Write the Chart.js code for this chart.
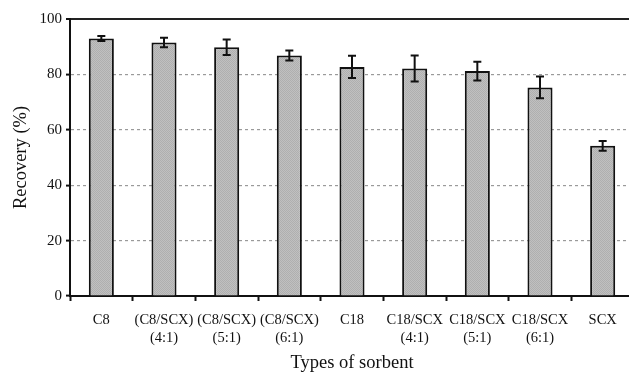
<!DOCTYPE html>
<html>
<head>
<meta charset="utf-8">
<script src="https://cdn.jsdelivr.net/npm/chart.js@4/dist/chart.umd.min.js"></script>
<style>
  html, body { margin: 0; padding: 0; background: #fff; overflow: hidden; }
  #wrap { width: 629px; height: 372px; overflow: hidden; position: relative; }
  #box { width: 640px; height: 372px; position: absolute; left: 0; top: 0; }
</style>
</head>
<body>
<div id="wrap"><div id="box"><canvas id="c"></canvas></div></div>
<script>
// Sorbent types (multi-line tick labels)
const sorbents = [
  ['C8'],
  ['(C8/SCX)', '(4:1)'],
  ['(C8/SCX)', '(5:1)'],
  ['(C8/SCX)', '(6:1)'],
  ['C18'],
  ['C18/SCX', '(4:1)'],
  ['C18/SCX', '(5:1)'],
  ['C18/SCX', '(6:1)'],
  ['SCX']
];
// Mean recovery (%) and standard deviation
const recovery = [93.0, 91.5, 89.8, 86.8, 82.7, 82.1, 81.2, 75.3, 54.2];
const deviation = [0.9, 1.7, 2.8, 1.8, 4.0, 4.7, 3.4, 3.9, 1.8];
const yTicks = [0, 20, 40, 60, 80, 100];

const serif = "'Liberation Serif', 'DejaVu Serif', serif";

// Fine stippled gray fill for the bars
function stipple() {
  const p = document.createElement('canvas');
  p.width = 2; p.height = 2;
  const g = p.getContext('2d');
  g.fillStyle = '#c0c0c0'; g.fillRect(0, 0, 2, 2);
  g.fillStyle = '#afafaf'; g.fillRect(0, 0, 1, 1); g.fillRect(1, 1, 1, 1);
  return g.createPattern(p, 'repeat');
}

// Error bars drawn from the deviation array through the scales
const errorBars = {
  id: 'errorBars',
  afterDatasetsDraw(chart) {
    const ctx = chart.ctx;
    const meta = chart.getDatasetMeta(0);
    const y = chart.scales.y;
    ctx.save();
    ctx.strokeStyle = '#111';
    ctx.lineWidth = 2;
    meta.data.forEach((bar, i) => {
      const x = bar.x;
      const hi = y.getPixelForValue(recovery[i] + deviation[i]);
      const lo = y.getPixelForValue(recovery[i] - deviation[i]);
      const cap = 4;
      ctx.beginPath();
      ctx.moveTo(x, hi); ctx.lineTo(x, lo);
      ctx.moveTo(x - cap, hi); ctx.lineTo(x + cap, hi);
      ctx.moveTo(x - cap, lo); ctx.lineTo(x + cap, lo);
      ctx.stroke();
    });
    ctx.restore();
  }
};

new Chart(document.getElementById('c'), {
  type: 'bar',
  data: {
    labels: sorbents,
    datasets: [{
      data: recovery,
      backgroundColor: stipple(),
      borderColor: '#111',
      borderWidth: 2,
      borderSkipped: 'bottom',
      categoryPercentage: 1.0,
      barPercentage: 0.4
    }]
  },
  options: {
    responsive: true,
    maintainAspectRatio: false,
    animation: false,
    layout: { padding: { left: 0, right: 6, top: 19, bottom: 0 } },
    plugins: { legend: { display: false }, tooltip: { enabled: false } },
    scales: {
      x: {
        afterFit(s) { s.height = 76; },
        grid: {
          offset: true,
          drawOnChartArea: false,
          drawTicks: true,
          tickLength: 5,
          tickColor: '#111',
          tickWidth: 2
        },
        border: { color: '#111', width: 2 },
        ticks: {
          color: '#111',
          font: { family: serif, size: 14.5, lineHeight: 1.25 },
          padding: 10,
          maxRotation: 0,
          autoSkip: false
        },
        title: {
          display: true,
          text: 'Types of sorbent',
          color: '#111',
          font: { family: serif, size: 18.5 },
          padding: { top: 0, bottom: -2 }
        }
      },
      y: {
        min: 0,
        max: 100,
        afterFit(s) { s.width = 70; },
        afterBuildTicks(s) { s.ticks = yTicks.map(v => ({ value: v })); },
        grid: {
          color: c => c.tick && c.tick.value === 100 ? '#222' : '#9a9a9a',
          lineWidth: c => c.tick && c.tick.value === 100 ? 2 : 1.2,
          tickLength: 4,
          tickColor: '#111',
          tickWidth: 2
        },
        border: {
          color: '#111',
          width: 2,
          dash: c => c.tick && (c.tick.value === 100 || c.tick.value === 0) ? [] : [3, 3]
        },
        ticks: {
          color: '#111',
          font: { family: serif, size: 15 },
          padding: 4
        },
        title: {
          display: true,
          text: 'Recovery (%)',
          color: '#111',
          font: { family: serif, size: 18.5 },
          padding: { top: 10, bottom: 0 }
        }
      }
    }
  },
  plugins: [errorBars]
});
</script>
</body>
</html>
